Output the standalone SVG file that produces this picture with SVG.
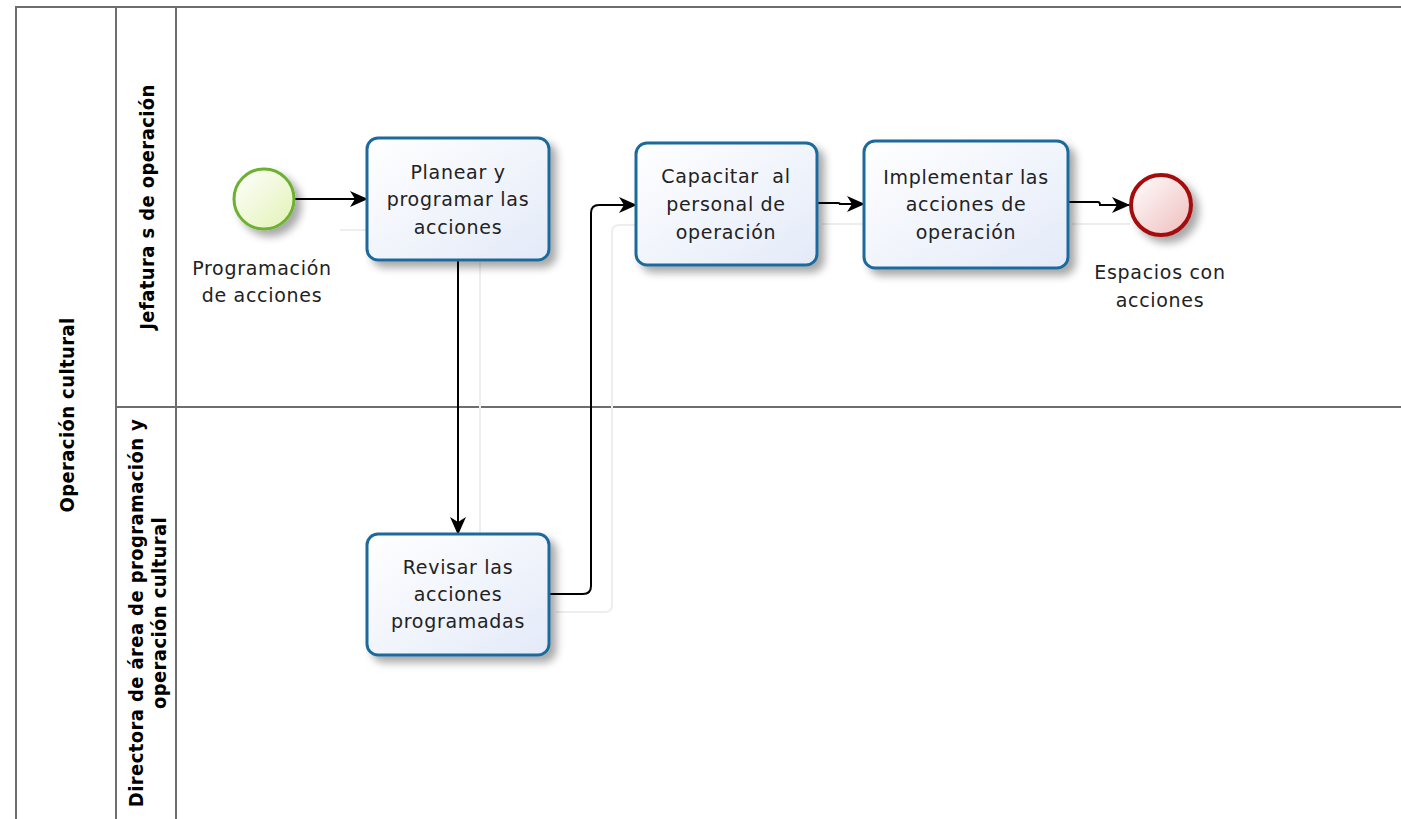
<svg xmlns="http://www.w3.org/2000/svg" width="1401" height="819" viewBox="0 0 1401 819">
  <defs>
    <style>
      .lane { fill: none; stroke: #6e6e6e; stroke-width: 2; }
      .hdr { font-family: "DejaVu Sans Condensed", "DejaVu Sans", sans-serif; font-weight: bold; font-size: 20px; letter-spacing: 0.4px; fill: #000; text-anchor: middle; }
      .task rect { fill: url(#taskFill); stroke: #1f6b9b; stroke-width: 3; }
      .lbl { font-family: "DejaVu Sans", sans-serif; font-size: 19px; letter-spacing: 0.7px; fill: #222; text-anchor: middle; }
      .flow { fill: none; stroke: #000; stroke-width: 2; marker-end: url(#arrow); }
      .ghost { fill: none; stroke: #eeeeee; stroke-width: 2; }
    </style>
    <linearGradient id="taskFill" x1="0" y1="0" x2="1" y2="1">
      <stop offset="0" stop-color="#ffffff"/>
      <stop offset="1" stop-color="#e3eaf8"/>
    </linearGradient>
    <linearGradient id="startFill" x1="0" y1="0" x2="1" y2="1">
      <stop offset="0" stop-color="#ffffff"/>
      <stop offset="1" stop-color="#e2f2b4"/>
    </linearGradient>
    <linearGradient id="endFill" x1="0" y1="0" x2="1" y2="1">
      <stop offset="0" stop-color="#ffffff"/>
      <stop offset="1" stop-color="#efbcbc"/>
    </linearGradient>
    <filter id="shadow" x="-20%" y="-20%" width="150%" height="150%">
      <feGaussianBlur in="SourceAlpha" stdDeviation="4"/>
      <feOffset dx="6" dy="6" result="b"/>
      <feComponentTransfer><feFuncA type="linear" slope="0.35"/></feComponentTransfer>
      <feMerge><feMergeNode/><feMergeNode in="SourceGraphic"/></feMerge>
    </filter>
    <marker id="arrow" viewBox="0 0 18 18" refX="17" refY="9" markerWidth="18" markerHeight="18" markerUnits="userSpaceOnUse" orient="auto">
      <path d="M0,1 L18,9 L0,17 L5,9 Z" fill="#000"/>
    </marker>
  </defs>

  <rect width="1401" height="819" fill="#ffffff"/>

  <!-- pool and lanes -->
  <g id="pool">
    <path class="lane" d="M1401,7 H16 V819"/>
    <path class="lane" d="M116,7 V819 M176,7 V819 M116,407 H1401"/>
    <text class="hdr" transform="translate(74,415) rotate(-90)">Operación cultural</text>
  </g>
  <g id="lane-jefatura">
    <text class="hdr" transform="translate(154,207) rotate(-90)">Jefatura s de operación</text>
  </g>
  <g id="lane-directora">
    <text class="hdr" transform="translate(143,613) rotate(-90)">Directora de área de programación y</text>
    <text class="hdr" transform="translate(166,613) rotate(-90)">operación cultural</text>
  </g>

  <!-- faint connector shadows -->
  <g id="connector-shadows">
    <path class="ghost" d="M340,230 H367 M480,262 V534 M556,612 H605 Q612,612 612,605 V232 Q612,225 619,225 H636 M822,224 H864 M1072,224 H1130"/>
  </g>

  <!-- sequence flows -->
  <g id="connectors">
    <path class="flow" d="M295,199 H367"/>
    <path class="flow" d="M458,260 V534"/>
    <path class="flow" d="M549,594 H583 Q591,594 591,586 V213 Q591,205 599,205 H636"/>
    <path class="flow" d="M817,203 H838 Q840,203 840,204 H864"/>
    <path class="flow" d="M1068,202 H1098 Q1100,202 1100,205 H1129"/>
  </g>

  <!-- events -->
  <g id="start-event">
    <circle cx="264" cy="199" r="30" fill="url(#startFill)" stroke="#6cb130" stroke-width="3" filter="url(#shadow)"/>
    <text class="lbl" x="262" y="275">Programación</text>
    <text class="lbl" x="262" y="302">de acciones</text>
  </g>
  <g id="end-event">
    <circle cx="1161" cy="205" r="30" fill="url(#endFill)" stroke="#a30d0d" stroke-width="4" filter="url(#shadow)"/>
    <text class="lbl" x="1160" y="279">Espacios con</text>
    <text class="lbl" x="1160" y="307">acciones</text>
  </g>

  <!-- tasks -->
  <g id="task-planear" class="task">
    <rect x="367" y="138" width="182" height="122" rx="11" filter="url(#shadow)"/>
    <text class="lbl" x="458" y="179">Planear y</text>
    <text class="lbl" x="458" y="206">programar las</text>
    <text class="lbl" x="458" y="234">acciones</text>
  </g>
  <g id="task-capacitar" class="task">
    <rect x="636" y="143" width="181" height="122" rx="11" filter="url(#shadow)"/>
    <text class="lbl" x="726" y="183" xml:space="preserve">Capacitar  al</text>
    <text class="lbl" x="726" y="211">personal de</text>
    <text class="lbl" x="726" y="239">operación</text>
  </g>
  <g id="task-implementar" class="task">
    <rect x="864" y="141" width="204" height="127" rx="11" filter="url(#shadow)"/>
    <text class="lbl" x="966" y="184">Implementar las</text>
    <text class="lbl" x="966" y="211">acciones de</text>
    <text class="lbl" x="966" y="239">operación</text>
  </g>
  <g id="task-revisar" class="task">
    <rect x="367" y="534" width="182" height="121" rx="11" filter="url(#shadow)"/>
    <text class="lbl" x="458" y="574">Revisar las</text>
    <text class="lbl" x="458" y="601">acciones</text>
    <text class="lbl" x="458" y="628">programadas</text>
  </g>
</svg>
